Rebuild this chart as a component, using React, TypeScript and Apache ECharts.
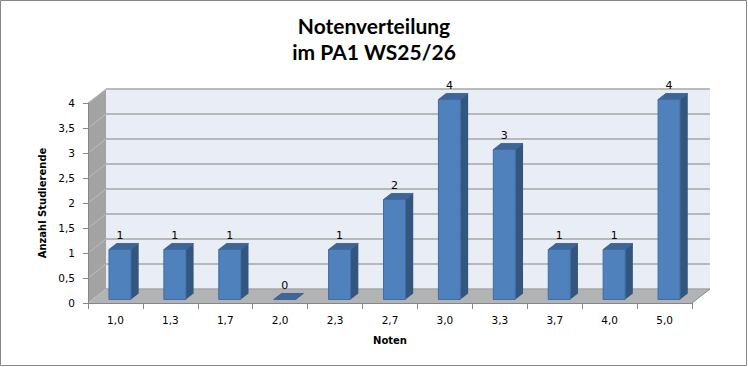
import React, { useEffect, useRef } from "react";
import * as echarts from "echarts";

const categories = ["1,0", "1,3", "1,7", "2,0", "2,3", "2,7", "3,0", "3,3", "3,7", "4,0", "5,0"];
const counts = [1, 1, 1, 0, 1, 2, 4, 3, 1, 1, 4];
const yTicks = [0, 0.5, 1, 1.5, 2, 2.5, 3, 3.5, 4];
const titleLines = ["Notenverteilung", "im PA1 WS25/26"];
const xAxisTitle = "Noten";
const yAxisTitle = "Anzahl Studierende";

const DX = 18;
const DY = -14;
const BAR_FRONT = 0.25;
const BAR_BACK = 0.68;
const BAR_WIDTH_FRAC = 0.4;

export default function App() {
  const ref = useRef<HTMLDivElement>(null);
  useEffect(() => {
    document.body.style.margin = "0";
    const chart = echarts.init(ref.current!, null, { renderer: "svg" });

    const wallsRender = (params: any, api: any) => {
      const band = api.size([1, 0])[0];
      const first = api.coord([0, 0]);
      const last = api.coord([categories.length - 1, 0]);
      const L = first[0] - band / 2;
      const R = last[0] + band / 2;
      const yb = first[1];
      const yt = api.coord([0, yTicks[yTicks.length - 1]])[1];
      const children: any[] = [];
      children.push({
        type: "polygon",
        shape: { points: [[L + DX, yt + DY], [R + DX, yt + DY], [R + DX, yb + DY], [L + DX, yb + DY]] },
        style: { fill: "#E9EDF5" },
      });
      children.push({
        type: "polygon",
        shape: { points: [[L, yt], [L + DX, yt + DY], [L + DX, yb + DY], [L, yb]] },
        style: { fill: "#A3A3A3" },
      });
      children.push({
        type: "polygon",
        shape: { points: [[L, yb], [R, yb], [R + DX, yb + DY], [L + DX, yb + DY]] },
        style: { fill: "#B2B3B5" },
      });
      yTicks.forEach((v) => {
        const y = api.coord([0, v])[1];
        children.push({
          type: "line",
          shape: { x1: L + DX, y1: y + DY, x2: R + DX, y2: y + DY },
          style: { stroke: "#A6A6A6", lineWidth: 1.5 },
        });
        children.push({
          type: "line",
          shape: { x1: L, y1: y, x2: L + DX, y2: y + DY },
          style: { stroke: "#BDBDBD", lineWidth: 1 },
        });
      });
      children.push({
        type: "line",
        shape: { x1: R, y1: yb, x2: R + DX, y2: yb + DY },
        style: { stroke: "#8A8A8A", lineWidth: 1 },
      });
      return { type: "group", children };
    };

    const barRender = (params: any, api: any) => {
      const i = api.value(0);
      const v = api.value(1);
      const band = api.size([1, 0])[0];
      const base = api.coord([i, 0]);
      const top = api.coord([i, v]);
      const w = band * BAR_WIDTH_FRAC;
      const fx = DX * BAR_FRONT;
      const fy = DY * BAR_FRONT;
      const dx = DX * (BAR_BACK - BAR_FRONT);
      const dy = DY * (BAR_BACK - BAR_FRONT);
      const x0 = base[0] - w / 2 + fx;
      const x1 = base[0] + w / 2 + fx;
      const yB = base[1] + fy;
      const yT = top[1] + fy;
      const children: any[] = [];
      if (v > 0) {
        children.push({
          type: "polygon",
          shape: { points: [[x1, yT], [x1 + dx, yT + dy], [x1 + dx, yB + dy], [x1, yB]] },
          style: { fill: "#33567F" },
        });
      }
      children.push({
        type: "polygon",
        shape: { points: [[x0, yT], [x1, yT], [x1 + dx, yT + dy], [x0 + dx, yT + dy]] },
        style: { fill: "#3D6597", stroke: "#36598A", lineWidth: 0.8 },
      });
      if (v > 0) {
        children.push({
          type: "rect",
          shape: { x: x0, y: yT, width: w, height: yB - yT },
          style: { fill: "#4F81BD", stroke: "#3E6CA3", lineWidth: 1 },
        });
      }
      children.push({
        type: "text",
        x: (x0 + x1) / 2,
        y: yT + dy - 8,
        style: {
          text: String(v),
          fill: "#000",
          font: "11px 'DejaVu Sans'",
          align: "center",
          verticalAlign: "middle",
        },
      });
      return { type: "group", children };
    };

    const axisFont = { fontFamily: "DejaVu Sans", fontSize: 10.5, color: "#000" };

    chart.setOption({
      animation: false,
      backgroundColor: "#fff",
      title: {
        text: titleLines.join("\n"),
        left: "center",
        top: 13,
        padding: 0,
        textStyle: { fontFamily: "Lato", fontWeight: "bold", fontSize: 21, lineHeight: 25.5, color: "#000" },
      },
      grid: { left: 88, right: 56, top: 103, bottom: 64 },
      xAxis: {
        type: "category",
        data: categories,
        z: 5,
        name: xAxisTitle,
        nameLocation: "middle",
        nameGap: 32,
        nameTextStyle: { fontFamily: "DejaVu Sans", fontSize: 10, fontWeight: "bold", color: "#000" },
        axisLine: { lineStyle: { color: "#868686", width: 1 } },
        axisTick: { show: true, length: 6, interval: 0, lineStyle: { color: "#868686" } },
        axisLabel: { ...axisFont, margin: 11, interval: 0 },
        splitLine: { show: false },
      },
      yAxis: {
        type: "value",
        min: 0,
        max: 4,
        interval: 0.5,
        z: 5,
        name: yAxisTitle,
        nameLocation: "middle",
        nameRotate: 90,
        nameGap: 34,
        nameTextStyle: { fontFamily: "DejaVu Sans", fontSize: 10, fontWeight: "bold", color: "#000" },
        axisLine: { show: true, lineStyle: { color: "#868686", width: 1 } },
        axisTick: { show: true, length: 5, lineStyle: { color: "#868686" } },
        axisLabel: { ...axisFont, margin: 13, formatter: (v: number) => String(v).replace(".", ",") },
        splitLine: { show: false },
      },
      graphic: [
        {
          type: "rect",
          shape: { x: 0.5, y: 0.5, width: 746, height: 365 },
          style: { fill: "none", stroke: "#868686", lineWidth: 1 },
          silent: true,
          z: 100,
        },
      ],
      series: [
        {
          type: "custom",
          coordinateSystem: "cartesian2d",
          data: [[0, 0]],
          renderItem: wallsRender,
          silent: true,
          z: 1,
        },
        {
          type: "custom",
          coordinateSystem: "cartesian2d",
          data: counts.map((c, i) => [i, c]),
          encode: { x: 0, y: 1 },
          renderItem: barRender,
          silent: true,
          z: 3,
        },
      ],
    });
    return () => chart.dispose();
  }, []);
  return <div ref={ref} style={{ width: 748, height: 367 }} />;
}
